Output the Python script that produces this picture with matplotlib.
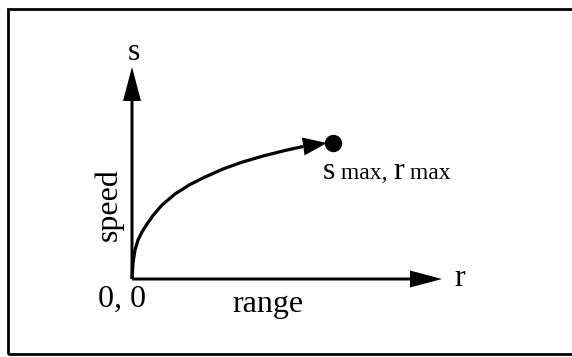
import matplotlib
matplotlib.use("Agg")
import matplotlib.pyplot as plt
from matplotlib.patches import Rectangle

# curve (range r, speed s), origin at 0,0
r = [0, 1, 3, 6, 10, 15, 21, 30, 43, 58, 72, 91, 109, 131, 153, 171, 195]
s = [0, 16, 29, 39, 47, 55, 63.5, 74, 85, 94.5, 101.5, 110, 116.5, 123, 128.5, 132.5, 136]
r_max, s_max = 201, 136
r_axis_len = 310
s_axis_len = 212

plt.rcParams['font.family'] = ['Liberation Serif', 'DejaVu Serif']

fig = plt.figure(figsize=(5.72, 3.57), dpi=100)
ax = fig.add_axes([0, 0, 1, 1])
# one data unit = one pixel, origin of the sketch at pixel (132, 279)
ax.set_xlim(-132, 440)
ax.set_ylim(-78, 279)
ax.axis('off')

# outer frame (right edge falls outside the picture)
ax.add_patch(Rectangle((-124, -75), 580, 345, fill=False, lw=2, ec='k', clip_on=False))

# axes with arrow heads
ax.arrow(0, 0, r_axis_len, 0, width=3, head_width=17, head_length=32,
         length_includes_head=True, fc='k', ec='none')
ax.arrow(0, 0, 0, s_axis_len, width=3, head_width=18, head_length=34,
         length_includes_head=True, fc='k', ec='none')

# curve and its arrow head
ax.plot(r[:-1], s[:-1], color='k', lw=2.3, solid_capstyle='butt', solid_joinstyle='round')
ax.arrow(r[-2], s[-2], r[-1] - r[-2], s[-1] - s[-2], width=0.1, head_width=18,
         head_length=24, length_includes_head=True, fc='k', ec='none')
ax.plot([r_max], [s_max], 'o', color='k', markersize=11.5)

fs = 23
ax.text(2, 227, 's', fontsize=fs, ha='center', va='center')
ax.text(-23, 74, 'speed', fontsize=fs, rotation=90, ha='center', va='center')
ax.text(-10.5, -28, '0, 0', fontsize=fs, ha='center', va='baseline')
ax.text(136, -33, 'range', fontsize=fs, ha='center', va='baseline')
ax.text(322, -7, 'r', fontsize=fs, ha='left', va='baseline')

# "s max, r max" with mixed sizes, placed piece by piece
fig.canvas.draw()
renderer = fig.canvas.get_renderer()
x = 191
for txt, size in [('s', fs), (' max, ', 17), ('r', fs), (' max', 17)]:
    t = ax.text(x, 100, txt, fontsize=size, ha='left', va='baseline')
    x += t.get_window_extent(renderer).width

fig.savefig('out.png', dpi=100)
